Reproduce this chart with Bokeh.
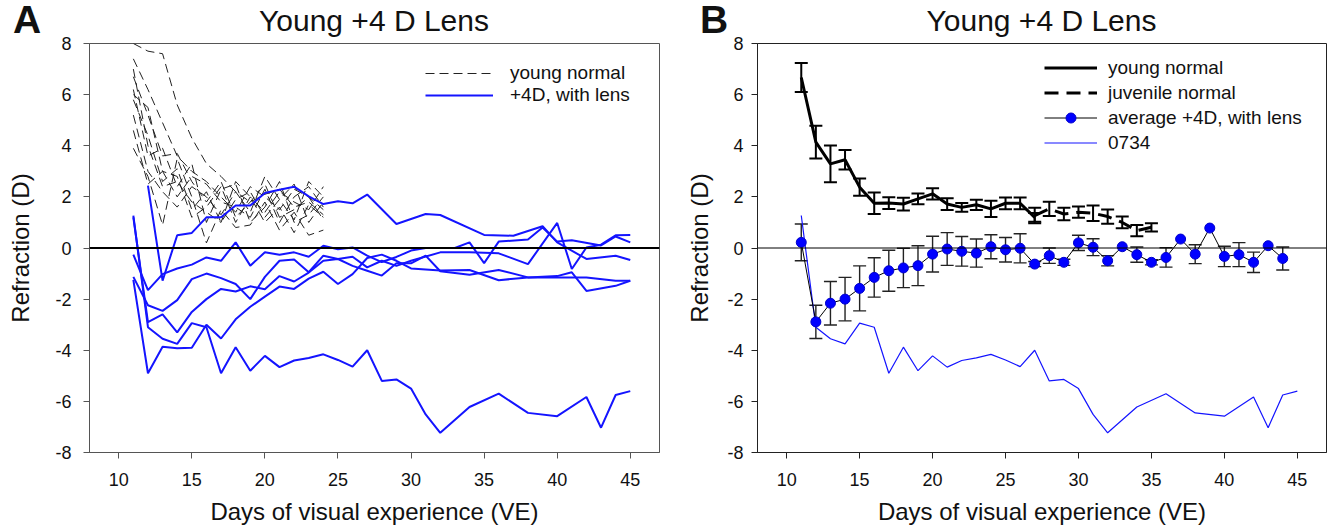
from bokeh.plotting import figure
from bokeh.layouts import row, column
from bokeh.models import (ColumnDataSource, Legend, LegendItem, Span, Div,
                          Whisker, FixedTicker, Range1d, TeeHead)
from bokeh.embed import file_html
from bokeh.resources import INLINE

FONT = "Liberation Sans"
BLUE = "#1414ff"
XTICKS = [10, 15, 20, 25, 30, 35, 40, 45]
YTICKS = [-8, -6, -4, -2, 0, 2, 4, 6, 8]
TITLE = "Young +4 D Lens"
XLABEL = "Days of visual experience (VE)"
YLABEL = "Refraction (D)"

# ---------------- Panel A data ----------------
young_days = list(range(11, 25))
young_a = [
    [8.0, 7.7, 7.6, 5.6, 4.3, 3.3, 2.8, 2.2, 1.8, 2.1, 2.3, 1.6, 1.8, 1.3],
    [7.4, 6.2, 4.9, 3.6, 3.0, 2.6, 2.0, 1.4, 2.4, 2.0, 1.5, 2.3, 2.0, 1.5],
    [6.7, 5.2, 3.6, 3.7, 2.6, 1.8, 2.6, 1.2, 1.8, 2.5, 1.2, 1.5, 2.0, 1.1],
    [6.2, 3.6, 3.9, 2.4, 3.3, 1.0, 2.3, 2.5, 1.0, 1.6, 2.6, 1.0, 1.3, 2.0],
    [5.8, 4.4, 2.6, 3.1, 1.5, 2.2, 1.0, 1.9, 2.2, 1.2, 1.9, 2.5, 1.0, 1.8],
    [3.9, 2.8, 0.9, 3.5, 2.0, 0.2, 1.5, 0.8, 0.9, 1.8, 0.7, 1.4, 0.5, 0.7],
    [5.2, 3.0, 2.2, 1.6, 2.4, 2.0, 1.3, 2.2, 1.4, 2.8, 1.9, 1.1, 2.6, 2.0],
    [4.6, 2.5, 3.0, 2.8, 1.2, 1.6, 2.4, 1.0, 2.0, 1.4, 2.2, 1.8, 1.5, 2.4],
    [6.0, 5.5, 3.0, 2.0, 2.8, 2.5, 1.8, 1.6, 1.2, 2.3, 1.0, 2.0, 2.4, 1.6],
    [7.0, 4.0, 2.4, 2.6, 1.8, 1.4, 1.0, 2.6, 2.0, 1.0, 1.6, 0.6, 1.7, 1.2],
]

d0734 = [11, 12, 13, 14, 15, 16, 17, 18, 19, 20, 21, 22, 23, 24, 25, 26, 27,
         28, 29, 30, 31, 32, 34, 36, 38, 40, 42, 43, 44, 45]
v0734 = [1.27, -3.1, -3.55, -3.75, -2.94, -3.1, -4.9, -3.88, -4.8, -4.22,
         -4.66, -4.4, -4.3, -4.16, -4.38, -4.64, -4.0, -5.2, -5.14, -5.5,
         -6.51, -7.23, -6.22, -5.7, -6.45, -6.58, -5.83, -7.03, -5.75, -5.6]

lens_b2_d = [12, 13, 14, 15, 16, 17, 18, 19, 20, 21, 22, 23, 24, 25, 26, 27,
             29, 31, 32, 35, 37, 39, 40, 42, 44, 45]
lens_b2_v = [2.44, -1.28, 0.5, 0.59, 1.2, 1.2, 1.66, 1.66, 2.15, 2.28, 2.4,
             2.02, 1.72, 1.83, 1.75, 2.09, 0.94, 1.33, 1.29, 0.51, 0.48, 0.85,
             0.22, -0.43, -0.3, -0.47]

lens_b3_d = [11, 12, 13, 14, 15, 16, 17, 18, 19, 20, 21, 22, 23, 24, 25, 26,
             27, 28, 29, 30, 31, 33, 34, 35, 36, 38, 39, 40, 41, 43, 44, 45]
lens_b3_v = [-0.26, -1.65, -1.02, -0.8, -0.65, -0.37, -0.5, 0.22, -0.69,
             -0.17, -0.26, -0.17, -0.34, 0.09, -0.05, 0.02, -0.3, -0.55,
             -0.35, -0.1, 0.0, 0.0, 0.22, -0.59, 0.25, 0.33, 0.8, 0.25, 0.3,
             0.1, 0.45, 0.22]

lens_b4_d = [11, 12, 13, 14, 15, 16, 17, 18, 19, 20, 21, 22, 23, 24, 25, 26,
             27, 28, 29, 30, 32, 34, 36, 38, 40, 41, 42, 43, 44, 45]
lens_b4_v = [-1.13, -2.24, -2.46, -2.04, -1.22, -1.0, -1.18, -1.41, -2.0,
             -1.13, -0.5, -0.45, -0.95, -0.3, -0.43, -0.34, -0.76, -0.5, -0.7,
             -0.5, -0.17, -0.17, -0.21, -0.63, 0.98, -0.82, 0.02, 0.13, 0.5,
             0.51]

lens_b5_d = [11, 12, 13, 14, 15, 16, 17, 18, 19, 20, 21, 22, 23, 24, 25, 26,
             27, 28, 29, 30, 32, 34, 36, 38, 40, 42, 44, 45]
lens_b5_v = [-1.25, -4.9, -3.86, -3.92, -3.9, -3.0, -3.54, -2.79, -2.3, -1.9,
             -1.51, -1.6, -1.2, -0.93, -1.41, -1.02, -0.39, -0.26, -0.5, -0.8,
             -0.88, -0.86, -1.26, -1.15, -1.15, -1.15, -1.28, -1.28]

lens_b6_d = [11, 12, 13, 14, 15, 16, 17, 18, 19, 20, 21, 22, 23, 24, 25, 26,
             27, 28, 29, 30, 31, 32, 34, 36, 38, 40, 41, 42, 44, 45]
lens_b6_v = [1.2, -2.9, -2.6, -3.3, -2.5, -2.0, -1.6, -1.7, -1.5, -1.61, -1.1,
             -1.31, -0.96, -0.5, -0.43, -0.7, -0.89, -1.08, -0.6, -0.6, -0.3,
             -0.91, -1.05, -0.86, -1.15, -1.1, -0.95, -1.68, -1.48, -1.28]

lens_lines = [(d0734, v0734), (lens_b2_d, lens_b2_v), (lens_b3_d, lens_b3_v),
              (lens_b4_d, lens_b4_v), (lens_b5_d, lens_b5_v),
              (lens_b6_d, lens_b6_v)]

# ---------------- Panel B data ----------------
yn_days = list(range(11, 28))
yn_mean = [6.67, 4.14, 3.29, 3.45, 2.38, 1.75, 1.76, 1.72, 1.92, 2.12, 1.72,
           1.59, 1.69, 1.53, 1.75, 1.75, 1.2]
yn_err = [0.57, 0.64, 0.72, 0.38, 0.34, 0.42, 0.23, 0.25, 0.21, 0.22, 0.23,
          0.17, 0.2, 0.32, 0.23, 0.23, 0.17]

juv_days = [27, 28, 29, 30, 31, 32, 33, 34, 35]
juv_mean = [1.27, 1.53, 1.33, 1.4, 1.36, 1.23, 1.0, 0.68, 0.81]
juv_err = [0.3, 0.28, 0.24, 0.22, 0.3, 0.28, 0.23, 0.22, 0.16]

avg_days = list(range(11, 45))
avg_mean = [0.22, -2.89, -2.16, -2.0, -1.58, -1.15, -0.89, -0.78, -0.69,
            -0.24, -0.04, -0.13, -0.2, 0.05, -0.07, -0.01, -0.63, -0.3, -0.56,
            0.2, 0.03, -0.5, 0.05, -0.26, -0.56, -0.37, 0.35, -0.24, 0.78,
            -0.33, -0.26, -0.56, 0.09, -0.41]
avg_err = [0.72, 0.65, 0.85, 0.85, 0.88, 0.77, 0.8, 0.77, 0.78, 0.7, 0.64,
           0.58, 0.55, 0.47, 0.48, 0.57, 0.1, 0.3, 0.12, 0.3, 0.33, 0.2, 0.0,
           0.3, 0.1, 0.38, 0.0, 0.37, 0.0, 0.4, 0.47, 0.4, 0.0, 0.45]


def style(p, axis_color, tick_standoff_y, label_standoff_y):
    p.xgrid.visible = False
    p.ygrid.visible = False
    p.outline_line_color = axis_color
    p.outline_line_width = 1
    p.background_fill_color = "white"
    p.border_fill_alpha = 0
    for ax in (p.xaxis[0], p.yaxis[0]):
        ax.axis_line_color = axis_color
        ax.major_tick_line_color = axis_color
        ax.major_tick_out = 6
        ax.major_tick_in = 0
        ax.minor_tick_line_color = None
        ax.major_label_text_font = FONT
        ax.major_label_text_font_size = "18px"
        ax.major_label_text_color = "#111111"
        ax.axis_label_text_font = FONT
        ax.axis_label_text_font_size = "24px"
        ax.axis_label_text_font_style = "normal"
        ax.axis_label_text_color = "#111111"
    p.xaxis.ticker = FixedTicker(ticks=XTICKS)
    p.yaxis.ticker = FixedTicker(ticks=YTICKS)
    p.yaxis.major_label_overrides = {v: str(v) for v in YTICKS}
    p.xaxis.major_label_standoff = 14
    p.xaxis.axis_label_standoff = 9
    p.yaxis.major_label_standoff = tick_standoff_y
    p.yaxis.axis_label_standoff = label_standoff_y
    p.xaxis.axis_label = XLABEL
    p.yaxis.axis_label = YLABEL


def legend_style(leg, glyph_w, standoff, row_h):
    leg.border_line_color = None
    leg.background_fill_alpha = 0
    leg.padding = 0
    leg.margin = 0
    leg.spacing = 0
    leg.glyph_width = glyph_w
    leg.glyph_height = row_h
    leg.label_height = row_h
    leg.label_standoff = standoff
    leg.label_text_font = FONT
    leg.label_text_font_size = "19px"
    leg.label_text_color = "#111111"


def letter_div(letter, width, pad_left):
    html = ('<div style="font-family:\'Liberation Sans\',Arial,sans-serif;'
            'font-size:39px;line-height:39px;font-weight:bold;color:#111;'
            'padding-left:%dpx;padding-top:0px;white-space:nowrap;">%s</div>'
            % (pad_left, letter))
    return Div(text=html, width=width, height=43, margin=0)


def title_div(width):
    html = ('<div style="font-family:\'Liberation Sans\',Arial,sans-serif;'
            'font-size:30px;line-height:30px;color:#111;text-align:center;'
            'width:%dpx;padding-top:6px;white-space:nowrap;">%s</div>'
            % (width, TITLE))
    return Div(text=html, width=width, height=43, margin=0)


TOP_PAD = 12  # room above the frame for the top tick label

# ---------------- Panel A ----------------
pA = figure(width=678, height=486 + TOP_PAD, x_range=Range1d(8, 47),
            y_range=Range1d(-8, 8), output_backend="svg",
            toolbar_location=None, min_border_left=89, min_border_right=19,
            min_border_top=TOP_PAD, min_border_bottom=77)
style(pA, "#555555", 12, 18)

pA.add_layout(Span(location=0, dimension="width", line_color="black",
                   line_width=2))
young_rs = []
for vals in young_a:
    r = pA.line(young_days, vals, line_color="#222222", line_width=1,
                line_dash="9 5")
    young_rs.append(r)
lens_rs = []
for d, v in lens_lines:
    r = pA.line(d, v, line_color=BLUE, line_width=2)
    lens_rs.append(r)

legA = Legend(items=[LegendItem(label="young normal", renderers=[young_rs[0]]),
                     LegendItem(label="+4D, with lens", renderers=[lens_rs[0]])],
              location=(336, 346))
legend_style(legA, 68, 17, 20)
pA.add_layout(legA)

# ---------------- Panel B ----------------
pB = figure(width=658, height=486 + TOP_PAD, x_range=Range1d(8, 47),
            y_range=Range1d(-8, 8), output_backend="svg",
            toolbar_location=None, min_border_left=79, min_border_right=10,
            min_border_top=TOP_PAD, min_border_bottom=77)
style(pB, "#222222", 8, 11)
pB.add_layout(Span(location=0, dimension="width", line_color="black",
                   line_width=1))

r0734 = pB.line(d0734, v0734, line_color=BLUE, line_width=1.2)

yn_src = ColumnDataSource(dict(x=yn_days, y=yn_mean,
                               lo=[m - e for m, e in zip(yn_mean, yn_err)],
                               hi=[m + e for m, e in zip(yn_mean, yn_err)]))
juv_src = ColumnDataSource(dict(x=juv_days, y=juv_mean,
                                lo=[m - e for m, e in zip(juv_mean, juv_err)],
                                hi=[m + e for m, e in zip(juv_mean, juv_err)]))
sel = [i for i, e in enumerate(avg_err) if e > 0]
avg_src = ColumnDataSource(dict(x=avg_days, y=avg_mean))
avg_err_src = ColumnDataSource(dict(
    x=[avg_days[i] for i in sel],
    lo=[avg_mean[i] - avg_err[i] for i in sel],
    hi=[avg_mean[i] + avg_err[i] for i in sel]))


def whisk(src, width, color):
    w = Whisker(source=src, base="x", upper="hi", lower="lo",
                dimension="height", line_color=color, line_width=width,
                upper_head=TeeHead(size=13, line_color=color, line_width=width),
                lower_head=TeeHead(size=13, line_color=color, line_width=width))
    w.level = "underlay"
    pB.add_layout(w)


whisk(yn_src, 2, "black")
whisk(juv_src, 2, "black")
whisk(avg_err_src, 1.4, "#222222")

r_yn = pB.line("x", "y", source=yn_src, line_color="black", line_width=3)
r_juv = pB.line("x", "y", source=juv_src, line_color="black", line_width=3,
                line_dash="14 8")
r_avg_l = pB.line("x", "y", source=avg_src, line_color="black", line_width=1)
r_avg_c = pB.scatter("x", "y", source=avg_src, size=10, fill_color="blue",
                     line_color="#0000cc")

legB = Legend(items=[LegendItem(label="young normal", renderers=[r_yn]),
                     LegendItem(label="juvenile normal", renderers=[r_juv]),
                     LegendItem(label="average +4D, with lens",
                                renderers=[r_avg_l, r_avg_c]),
                     LegendItem(label="0734", renderers=[r0734])],
              location=(287, 297))
legend_style(legB, 53, 11, 25)
pB.add_layout(legB)

top = row(letter_div("A", 89, 13), title_div(570), letter_div("B", 98, 41),
          title_div(569), spacing=0)
plots = row(pA, pB, spacing=0, margin=(-TOP_PAD, 0, 0, 0))
layout = column(top, plots, spacing=0)
open("out.html", "w").write(file_html(layout, INLINE))
